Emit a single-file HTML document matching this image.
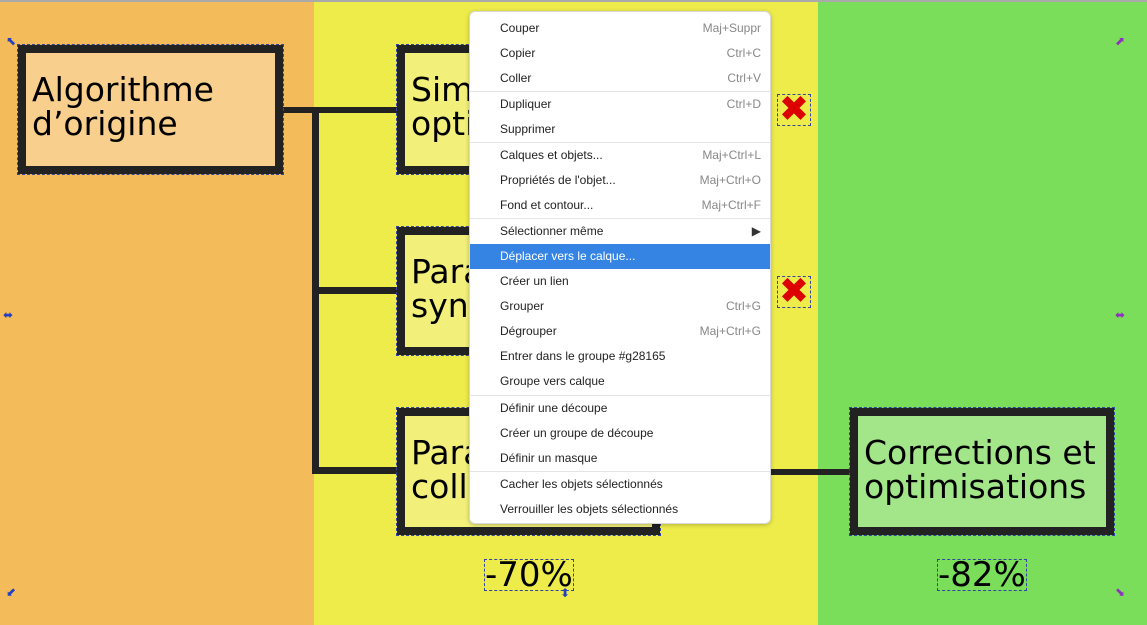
<!DOCTYPE html>
<html><head><meta charset="utf-8"><style>
*{margin:0;padding:0;box-sizing:border-box}
body{width:1147px;height:625px;position:relative;overflow:hidden;font-family:"DejaVu Sans","Liberation Sans",sans-serif}
.a{position:absolute}
.box{position:absolute;border:8px solid #222;outline:1px dashed #3345a0;font-size:33px;line-height:34px;padding:20px 0 0 6px;color:#000;white-space:nowrap;overflow:hidden}
.ln{position:absolute;background:#222}
.menu{position:absolute;left:469px;top:11px;width:302px;height:513px;background:#fff;border:1px solid #d8d8d8;border-radius:6px;box-shadow:0 1px 4px rgba(0,0,0,.25);font-family:"Liberation Sans",sans-serif;font-size:12px;color:#222}
.it{position:absolute;left:0;width:300px;height:25px;line-height:25px;padding-left:30px}
.it span{position:absolute;right:9px;color:#888}
.sep{position:absolute;left:0;width:300px;height:1px;background:#e4e4e4}
.x{position:absolute;color:#d00;font-size:36px;font-weight:bold;line-height:30px;width:32px;text-align:center;outline:1px dashed #3345a0}
.pct{position:absolute;font-size:34px;line-height:30px;outline:1px dashed #3345a0}
</style></head><body>
<div class="a" style="left:0;top:0;width:314px;height:625px;background:#f4bb5a"></div>
<div class="a" style="left:314px;top:0;width:504px;height:625px;background:#eeec4a"></div>
<div class="a" style="left:818px;top:0;width:329px;height:625px;background:#7ade5a"></div>
<div class="a" style="left:0;top:0;width:1147px;height:2px;background:#aaa"></div>

<div class="ln" style="left:280px;top:107px;width:120px;height:6px"></div>
<div class="ln" style="left:312px;top:110px;width:7px;height:364px"></div>
<div class="ln" style="left:312px;top:287px;width:88px;height:7px"></div>
<div class="ln" style="left:312px;top:467px;width:88px;height:7px"></div>
<div class="ln" style="left:760px;top:469px;width:95px;height:6px"></div>

<div class="box" style="left:18px;top:45px;width:265px;height:129px;background:#f8cf8c">Algorithme<br>d’origine</div>
<div class="box" style="left:397px;top:45px;width:265px;height:129px;background:#f2f07a">Simplifications<br>optimisations</div>
<div class="box" style="left:397px;top:227px;width:265px;height:128px;background:#f2f07a">Parallélisme<br>synchrone</div>
<div class="box" style="left:397px;top:408px;width:263px;height:127px;background:#f2f07a">Parallélisme<br>collectif</div>
<div class="box" style="left:850px;top:408px;width:264px;height:127px;background:#a3e68a">Corrections et<br>optimisations</div>

<div class="x" style="left:778px;top:95px">✖</div>
<div class="x" style="left:778px;top:277px">✖</div>
<div class="pct" style="left:485px;top:560px">-70%</div>
<div class="pct" style="left:938px;top:560px">-82%</div>
<div class="a" style="left:6px;top:34px;color:#2340c0;font-size:12px">⬉</div>
<div class="a" style="left:3px;top:308px;color:#2340c0;font-size:12px">⬌</div>
<div class="a" style="left:6px;top:585px;color:#2340c0;font-size:12px">⬋</div>
<div class="a" style="left:1115px;top:34px;color:#9030c0;font-size:12px">⬈</div>
<div class="a" style="left:1115px;top:308px;color:#9030c0;font-size:12px">⬌</div>
<div class="a" style="left:1115px;top:585px;color:#9030c0;font-size:12px">⬊</div>
<div class="a" style="left:560px;top:586px;color:#2340c0;font-size:12px">⬍</div>

<div class="menu">
<div class="it" style="top:4px">Couper<span>Maj+Suppr</span></div>
<div class="it" style="top:29px">Copier<span>Ctrl+C</span></div>
<div class="it" style="top:54px">Coller<span>Ctrl+V</span></div>
<div class="sep" style="top:79px"></div>
<div class="it" style="top:80px">Dupliquer<span>Ctrl+D</span></div>
<div class="it" style="top:105px">Supprimer</div>
<div class="sep" style="top:130px"></div>
<div class="it" style="top:131px">Calques et objets...<span>Maj+Ctrl+L</span></div>
<div class="it" style="top:156px">Propriétés de l'objet...<span>Maj+Ctrl+O</span></div>
<div class="it" style="top:181px">Fond et contour...<span>Maj+Ctrl+F</span></div>
<div class="sep" style="top:206px"></div>
<div class="it" style="top:207px">Sélectionner même<span style="color:#333">▶</span></div>
<div class="it" style="top:232px;background:#3584e4;color:#fff">Déplacer vers le calque...</div>
<div class="it" style="top:257px">Créer un lien</div>
<div class="it" style="top:282px">Grouper<span>Ctrl+G</span></div>
<div class="it" style="top:307px">Dégrouper<span>Maj+Ctrl+G</span></div>
<div class="it" style="top:332px">Entrer dans le groupe #g28165</div>
<div class="it" style="top:357px">Groupe vers calque</div>
<div class="sep" style="top:383px"></div>
<div class="it" style="top:384px">Définir une découpe</div>
<div class="it" style="top:409px">Créer un groupe de découpe</div>
<div class="it" style="top:434px">Définir un masque</div>
<div class="sep" style="top:459px"></div>
<div class="it" style="top:460px">Cacher les objets sélectionnés</div>
<div class="it" style="top:485px">Verrouiller les objets sélectionnés</div>
</div>
</body></html>
